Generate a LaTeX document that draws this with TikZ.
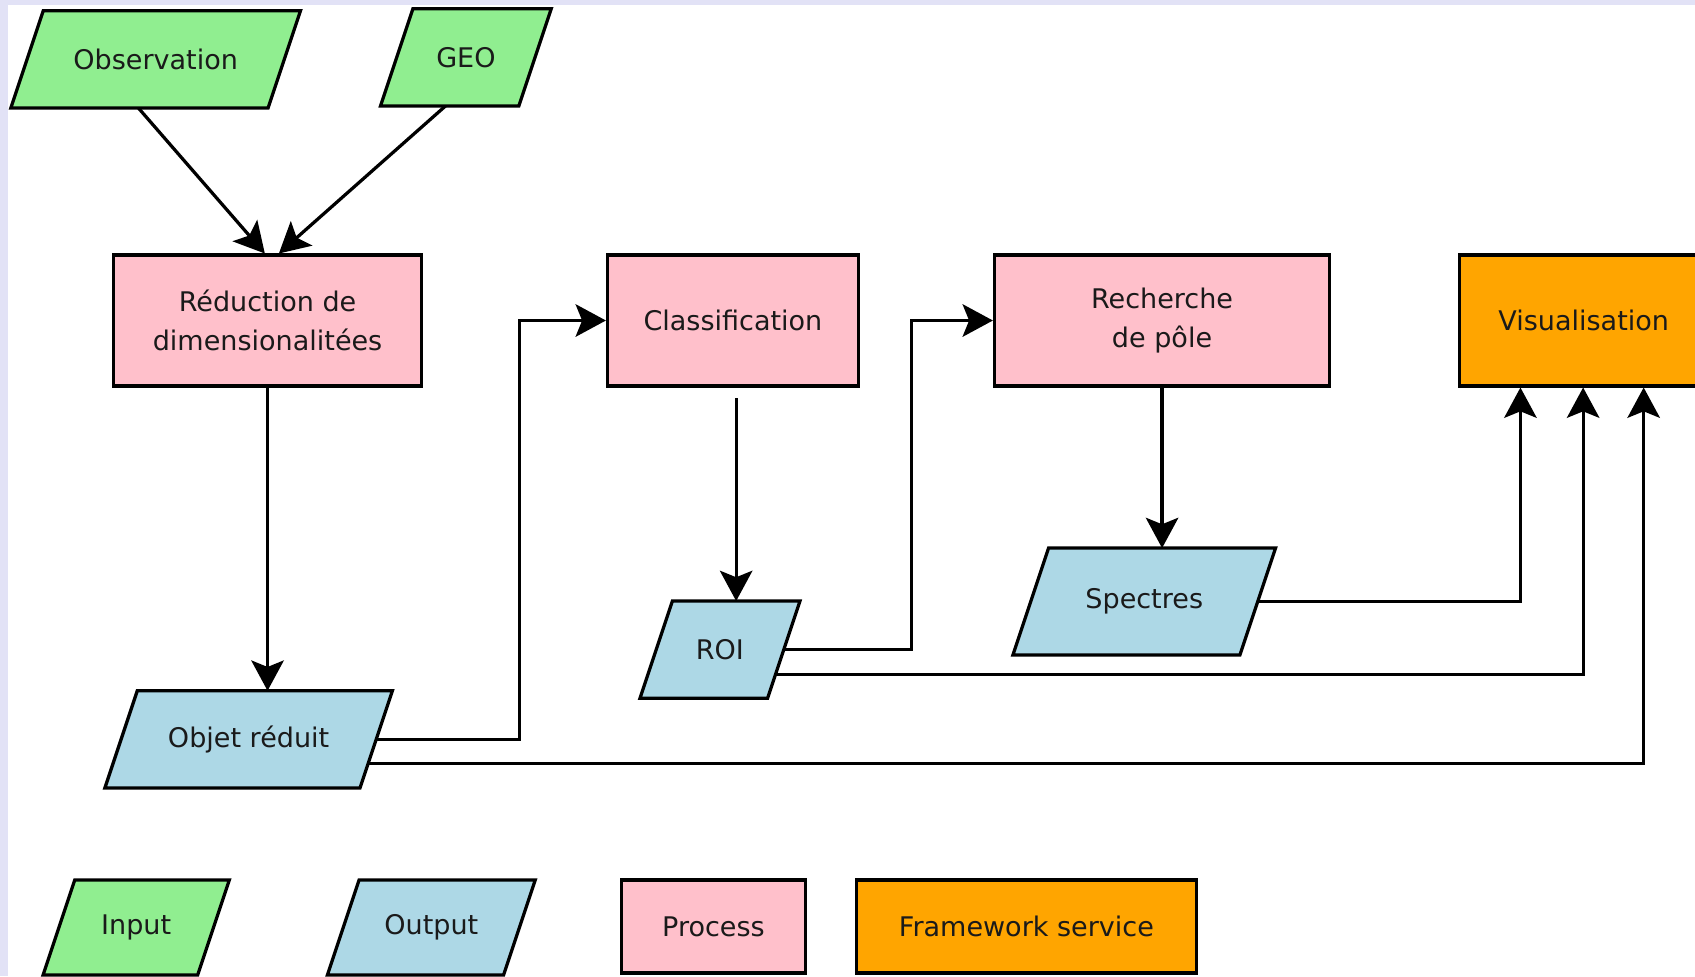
\documentclass[tikz,border=0pt]{standalone}
\usepackage{fontspec}
\setmainfont{DejaVu Sans}
\usetikzlibrary{arrows.meta,calc}
\pgfdeclarelayer{bg}\pgfdeclarelayer{lines}\pgfdeclarelayer{shapes}
\pgfsetlayers{bg,lines,shapes,main}
\definecolor{ingreen}{HTML}{90EE90}
\definecolor{outblue}{HTML}{ADD8E6}
\definecolor{procpink}{HTML}{FFC0CB}
\definecolor{fworange}{HTML}{FFA500}
\definecolor{lavbg}{RGB}{226,226,246}
\definecolor{ink}{HTML}{1A1A1A}
% #1 name, #2 cx, #3 cy, #4 side length, #5 height, #6 fill, #7 text
\newcommand\pgrambox[7]{%
  \begin{pgfonlayer}{shapes}
    \path[boxline,fill=#6] ({#2-#4/2+#5/6},{#3-#5/2}) -- ({#2+#4/2+#5/6},{#3-#5/2})
      -- ({#2+#4/2-#5/6},{#3+#5/2}) -- ({#2-#4/2-#5/6},{#3+#5/2}) -- cycle;
  \end{pgfonlayer}
  \node[lbl, minimum width=#4*0.5pt, minimum height=#5*0.5pt] (#1) at (#2,#3) {#7};
}
\begin{document}
\begin{tikzpicture}[x=0.5pt,y=-0.5pt,
  boxline/.style={draw=black, line width=1.5pt, line join=miter},
  lbl/.style={inner sep=0pt, outer sep=0pt, text=ink, font=\fontsize{12.5}{18}\selectfont, align=center},
  rectbox/.style={boxline, lbl, outer sep=0.75pt},
  conn/.style={draw=black, line width=1.5pt},
  arr/.style={conn, -{Stealth[length=14pt,width=15pt,inset=3pt]}},
]
\useasboundingbox (0,0) rectangle (1568,903);
\begin{pgfonlayer}{bg}
  \fill[lavbg] (0,0) rectangle (1568,903);
  \fill[white] (7,5) rectangle (1568,903);
\end{pgfonlayer}

% inputs
\pgrambox{obs}{144}{55}{238}{90}{ingreen}{Observation}
\pgrambox{geo}{431}{53}{128}{90}{ingreen}{GEO}

% processes
\node[rectbox, fill=procpink, minimum width=285*0.5pt, minimum height=121*0.5pt] (red) at (247.5,296.5) {Réduction de\\dimensionalitées};
\node[rectbox, fill=procpink, minimum width=232*0.5pt, minimum height=121*0.5pt] (cls) at (678,296.5) {Classification};
\node[rectbox, fill=procpink, minimum width=310*0.5pt, minimum height=121*0.5pt] (rech) at (1075,296.5) {Recherche\\de pôle};
\node[rectbox, fill=fworange, minimum width=230*0.5pt, minimum height=121*0.5pt] (vis) at (1465,296.5) {Visualisation};

% outputs
\pgrambox{objet}{230}{684}{236}{90}{outblue}{Objet réduit}
\pgrambox{roi}{666}{601}{118}{90}{outblue}{ROI}
\pgrambox{spec}{1058.5}{556.5}{210}{99}{outblue}{Spectres}

% legend
\pgrambox{legin}{126}{858}{143}{88}{ingreen}{Input}
\pgrambox{legout}{399}{858}{163}{88}{outblue}{Output}
\node[rectbox, fill=procpink, minimum width=170*0.5pt, minimum height=86*0.5pt] (legproc) at (660,857) {Process};
\node[rectbox, fill=fworange, minimum width=315*0.5pt, minimum height=86*0.5pt] (legfw) at (949.5,857) {Framework service};

% connectors
\coordinate (clsout) at ($(cls.south)+(3,10)$);
\begin{pgfonlayer}{lines}
  \draw[arr] ($(obs.center)+(-55,0)$) -- ($(red.north)+(-2.5,0)$);
  \draw[arr] ($(geo.center)+(32,0)$) -- ($(red.north)+(10.5,0)$);
  \draw[arr] (red.south) -- (red.south |- objet.north);
  \draw[arr] (objet.center) -| ($(cls.west)+(-80,0)$) -- (cls.west);
  \draw[arr] (clsout) -- (clsout |- roi.north);
  \draw[arr] (roi.center) -| ($(rech.west)+(-75,0)$) -- (rech.west);
  \draw[arr] (rech.south) -- (rech.south |- spec.north);
  \draw[arr] (spec.center) -| ($(vis.south west)+(58,0)$);
  \draw[arr] ($(roi.center)+(0,23)$) -| ($(vis.south west)+(116,0)$);
  \draw[arr] ($(objet.center)+(0,22)$) -| ($(vis.south west)+(172,0)$);
\end{pgfonlayer}
\end{tikzpicture}
\end{document}
